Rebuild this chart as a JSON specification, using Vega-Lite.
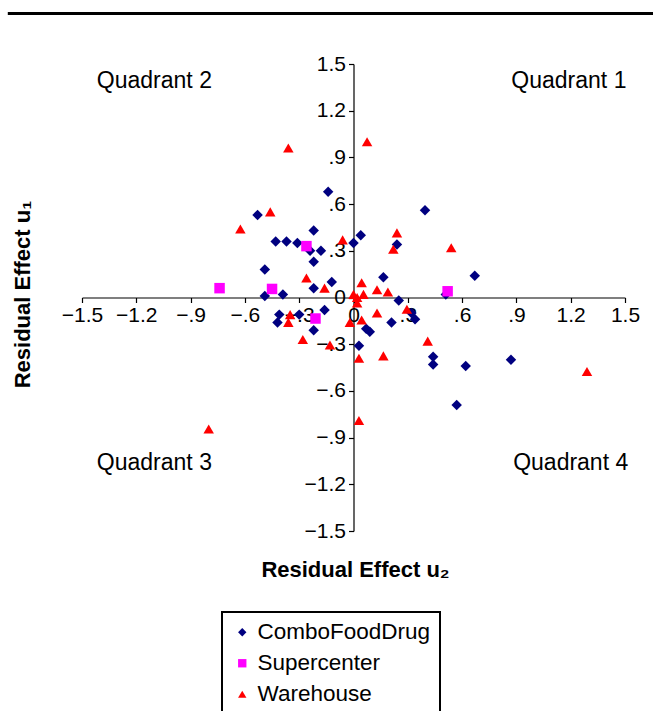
{
  "$schema": "https://vega.github.io/schema/vega-lite/v6.json",
  "width": 543,
  "height": 467,
  "autosize": {"type": "none"},
  "padding": {"left": 82, "top": 64, "right": 28, "bottom": 180},
  "background": "white",
  "config": {
    "view": {"stroke": null},
    "font": "Liberation Sans",
    "axis": {
      "grid": false,
      "domainColor": "black",
      "domainWidth": 1.2,
      "tickColor": "black",
      "tickWidth": 1.2,
      "tickSize": 5,
      "labelColor": "black",
      "labelFont": "Liberation Sans",
      "labelFontSize": 21,
      "labelOverlap": false,
      "labelFlush": false,
      "titleFont": "Liberation Sans",
      "titleFontSize": 22,
      "titleFontWeight": "bold",
      "titleColor": "black"
    },
    "legend": {
      "strokeColor": "black",
      "strokeWidth": 2,
      "padding": 9,
      "labelFont": "Liberation Sans",
      "labelFontSize": 22.5,
      "labelColor": "black",
      "labelLimit": 0,
      "symbolSize": 70,
      "symbolStrokeWidth": 0,
      "rowPadding": 8,
      "labelOffset": 4
    }
  },
  "datasets": {
    "pts": [
      {"type": "ComboFoodDrug", "u2": -0.14, "u1": 0.68},
      {"type": "ComboFoodDrug", "u2": -0.53, "u1": 0.53},
      {"type": "ComboFoodDrug", "u2": -0.22, "u1": 0.43},
      {"type": "ComboFoodDrug", "u2": -0.43, "u1": 0.36},
      {"type": "ComboFoodDrug", "u2": -0.37, "u1": 0.36},
      {"type": "ComboFoodDrug", "u2": -0.31, "u1": 0.35},
      {"type": "ComboFoodDrug", "u2": 0.0, "u1": 0.35},
      {"type": "ComboFoodDrug", "u2": 0.04, "u1": 0.40},
      {"type": "ComboFoodDrug", "u2": -0.24, "u1": 0.30},
      {"type": "ComboFoodDrug", "u2": -0.18, "u1": 0.30},
      {"type": "ComboFoodDrug", "u2": -0.22, "u1": 0.23},
      {"type": "ComboFoodDrug", "u2": -0.49, "u1": 0.18},
      {"type": "ComboFoodDrug", "u2": -0.12, "u1": 0.10},
      {"type": "ComboFoodDrug", "u2": -0.22, "u1": 0.06},
      {"type": "ComboFoodDrug", "u2": -0.39, "u1": 0.02},
      {"type": "ComboFoodDrug", "u2": -0.49, "u1": 0.01},
      {"type": "ComboFoodDrug", "u2": 0.165, "u1": 0.13},
      {"type": "ComboFoodDrug", "u2": 0.24, "u1": 0.34},
      {"type": "ComboFoodDrug", "u2": 0.395, "u1": 0.56},
      {"type": "ComboFoodDrug", "u2": 0.67, "u1": 0.14},
      {"type": "ComboFoodDrug", "u2": 0.51, "u1": 0.02},
      {"type": "ComboFoodDrug", "u2": 0.25, "u1": -0.02},
      {"type": "ComboFoodDrug", "u2": -0.16, "u1": -0.08},
      {"type": "ComboFoodDrug", "u2": -0.41, "u1": -0.11},
      {"type": "ComboFoodDrug", "u2": -0.42, "u1": -0.16},
      {"type": "ComboFoodDrug", "u2": -0.30, "u1": -0.11},
      {"type": "ComboFoodDrug", "u2": -0.22, "u1": -0.21},
      {"type": "ComboFoodDrug", "u2": 0.32, "u1": -0.10},
      {"type": "ComboFoodDrug", "u2": 0.34, "u1": -0.14},
      {"type": "ComboFoodDrug", "u2": 0.21, "u1": -0.16},
      {"type": "ComboFoodDrug", "u2": 0.07, "u1": -0.20},
      {"type": "ComboFoodDrug", "u2": 0.09, "u1": -0.22},
      {"type": "ComboFoodDrug", "u2": 0.03, "u1": -0.31},
      {"type": "ComboFoodDrug", "u2": 0.44, "u1": -0.38},
      {"type": "ComboFoodDrug", "u2": 0.44, "u1": -0.43},
      {"type": "ComboFoodDrug", "u2": 0.62, "u1": -0.44},
      {"type": "ComboFoodDrug", "u2": 0.87, "u1": -0.40},
      {"type": "ComboFoodDrug", "u2": 0.57, "u1": -0.69},
      {"type": "Supercenter", "u2": -0.74, "u1": 0.06},
      {"type": "Supercenter", "u2": -0.45, "u1": 0.055},
      {"type": "Supercenter", "u2": -0.26, "u1": 0.33},
      {"type": "Supercenter", "u2": -0.21, "u1": -0.135},
      {"type": "Supercenter", "u2": 0.52, "u1": 0.04},
      {"type": "Warehouse", "u2": -0.36, "u1": 0.96},
      {"type": "Warehouse", "u2": -0.46, "u1": 0.55},
      {"type": "Warehouse", "u2": -0.625, "u1": 0.44},
      {"type": "Warehouse", "u2": 0.075, "u1": 1.0},
      {"type": "Warehouse", "u2": 0.24, "u1": 0.415},
      {"type": "Warehouse", "u2": 0.54, "u1": 0.32},
      {"type": "Warehouse", "u2": 0.22, "u1": 0.31},
      {"type": "Warehouse", "u2": -0.06, "u1": 0.37},
      {"type": "Warehouse", "u2": -0.26, "u1": 0.125},
      {"type": "Warehouse", "u2": -0.16, "u1": 0.06},
      {"type": "Warehouse", "u2": 0.045, "u1": 0.095},
      {"type": "Warehouse", "u2": 0.13, "u1": 0.05},
      {"type": "Warehouse", "u2": 0.19, "u1": 0.035},
      {"type": "Warehouse", "u2": 0.0, "u1": 0.02},
      {"type": "Warehouse", "u2": 0.055, "u1": 0.02},
      {"type": "Warehouse", "u2": 0.02, "u1": 0.0},
      {"type": "Warehouse", "u2": 0.02, "u1": -0.035},
      {"type": "Warehouse", "u2": 0.295, "u1": -0.075},
      {"type": "Warehouse", "u2": 0.13, "u1": -0.10},
      {"type": "Warehouse", "u2": -0.02, "u1": -0.16},
      {"type": "Warehouse", "u2": 0.045, "u1": -0.145},
      {"type": "Warehouse", "u2": -0.35, "u1": -0.11},
      {"type": "Warehouse", "u2": -0.36, "u1": -0.16},
      {"type": "Warehouse", "u2": -0.28, "u1": -0.27},
      {"type": "Warehouse", "u2": -0.13, "u1": -0.305},
      {"type": "Warehouse", "u2": 0.41, "u1": -0.28},
      {"type": "Warehouse", "u2": 0.03, "u1": -0.39},
      {"type": "Warehouse", "u2": 0.165, "u1": -0.375},
      {"type": "Warehouse", "u2": 1.29, "u1": -0.475},
      {"type": "Warehouse", "u2": 0.03, "u1": -0.79},
      {"type": "Warehouse", "u2": -0.80, "u1": -0.845}
    ],
    "quads": [
      {"label": "Quadrant 1", "u2": 1.19, "u1": 1.39},
      {"label": "Quadrant  2", "u2": -1.10, "u1": 1.39},
      {"label": "Quadrant 3", "u2": -1.10, "u1": -1.06},
      {"label": "Quadrant 4", "u2": 1.20, "u1": -1.06}
    ]
  },
  "layer": [
    {
      "data": {"values": [{}]},
      "mark": {"type": "rule", "clip": false, "color": "black", "strokeWidth": 3},
      "encoding": {
        "x": {"datum": -1.91, "type": "quantitative", "scale": {"domain": [-1.5, 1.5], "nice": false, "zero": false}},
        "x2": {"datum": 1.66},
        "y": {"datum": 1.825, "type": "quantitative", "scale": {"domain": [-1.5, 1.5], "nice": false, "zero": false}}
      }
    },
    {
      "data": {"name": "pts"},
      "mark": {"type": "point", "filled": true, "opacity": 1, "size": 110},
      "encoding": {
        "x": {
          "field": "u2", "type": "quantitative",
          "scale": {"domain": [-1.5, 1.5], "nice": false, "zero": false},
          "axis": {
            "orient": "bottom",
            "offset": -233.5,
            "values": [-1.5, -1.2, -0.9, -0.6, -0.3, 0, 0.3, 0.6, 0.9, 1.2, 1.5],
            "labelExpr": "datum.value == 0 ? '0' : (abs(datum.value) < 1 ? (datum.value < 0 ? '−' : '') + replace(format(abs(datum.value), '.1f'), '0.', '.') : format(datum.value, '.1f'))",
            "labelPadding": 2,
            "title": "Residual Effect u₂",
            "titleX": 273,
            "titleY": 272,
            "titleBaseline": "middle",
            "titleAlign": "center"
          }
        },
        "y": {
          "field": "u1", "type": "quantitative",
          "scale": {"domain": [-1.5, 1.5], "nice": false, "zero": false},
          "axis": {
            "orient": "left",
            "offset": -271.5,
            "values": [-1.5, -1.2, -0.9, -0.6, -0.3, 0, 0.3, 0.6, 0.9, 1.2, 1.5],
            "labelExpr": "datum.value == 0 ? '0' : (abs(datum.value) < 1 ? (datum.value < 0 ? '−' : '') + replace(format(abs(datum.value), '.1f'), '0.', '.') : format(datum.value, '.1f'))",
            "labelPadding": 3,
            "title": "Residual Effect u₁",
            "titleX": -331.5,
            "titleY": 230,
            "titleAngle": 270,
            "titleBaseline": "middle",
            "titleAlign": "center"
          }
        },
        "color": {
          "field": "type", "type": "nominal",
          "scale": {"domain": ["ComboFoodDrug", "Supercenter", "Warehouse"], "range": ["#000080", "#FF00FF", "#FF0000"]},
          "legend": {"title": null, "orient": "none", "legendX": 140, "legendY": 548}
        },
        "shape": {
          "field": "type", "type": "nominal",
          "scale": {"domain": ["ComboFoodDrug", "Supercenter", "Warehouse"], "range": ["diamond", "square", "triangle-up"]},
          "legend": {"title": null, "orient": "none", "legendX": 140, "legendY": 548}
        }
      }
    },
    {
      "data": {"name": "quads"},
      "mark": {"type": "text", "font": "Liberation Sans", "fontSize": 23, "color": "black", "align": "center", "baseline": "middle"},
      "encoding": {
        "x": {"field": "u2", "type": "quantitative"},
        "y": {"field": "u1", "type": "quantitative"},
        "text": {"field": "label"}
      }
    }
  ]
}
